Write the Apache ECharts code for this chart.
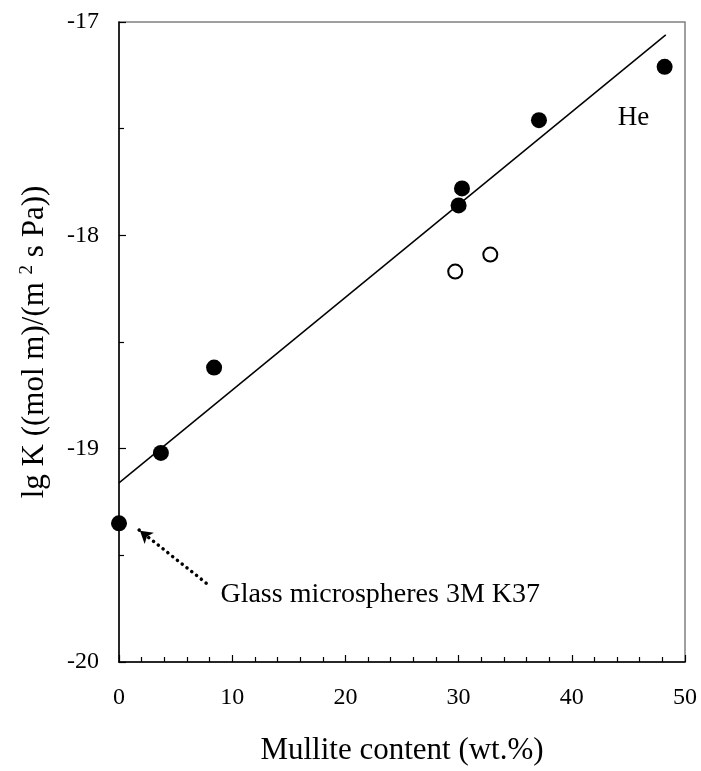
<!DOCTYPE html>
<html>
<head>
<meta charset="utf-8">
<script src="https://cdn.jsdelivr.net/npm/echarts@6/dist/echarts.min.js"></script>
<style>
  html, body { margin: 0; padding: 0; background: #fff; }
  #main { width: 701px; height: 771px; }
</style>
</head>
<body>
<div id="main"></div>
<script>
// measured points (filled = fitted samples, open = excluded)
var filledX = [0, 3.7, 8.4, 30.0, 30.3, 37.1, 48.2];
var filledY = [-19.35, -19.02, -18.62, -17.86, -17.78, -17.46, -17.21];
var openX = [29.7, 32.8];
var openY = [-18.17, -18.09];
// regression line end points
var fitX = [0, 48.3];
var fitY = [-19.16, -17.06];
// dotted arrow pointing at the glass microspheres point
var arrowFrom = [7.7, -19.63];
var arrowTo = [1.75, -19.38];
var arrowHead = [1.85, -19.385];
// text notes
var notes = [
  { x: 44.05, y: -17.45, text: 'He', size: 27 },
  { x: 8.96, y: -19.685, text: 'Glass microspheres 3M K37', size: 28 }
];

var serif = 'Liberation Serif';

function pairs(xs, ys) {
  var out = [];
  for (var i = 0; i < xs.length; i++) out.push([xs[i], ys[i]]);
  return out;
}

var dom = document.getElementById('main');
var myChart = echarts.init(dom);
var option = {
  animation: false,
  grid: {
    left: 119, right: 16, top: 22, bottom: 106,
    show: true, borderColor: '#808080', borderWidth: 1.5
  },
  xAxis: {
    type: 'value', min: 0, max: 50, interval: 10,
    name: 'Mullite content (wt.%)',
    nameLocation: 'middle', nameGap: 73,
    nameTextStyle: { fontFamily: serif, fontSize: 31, color: '#000' },
    axisLine: { lineStyle: { color: '#000', width: 1.5 } },
    axisTick: { inside: true, length: 7, lineStyle: { color: '#000', width: 1.2 } },
    minorTick: { show: true, splitNumber: 5, length: 5, lineStyle: { color: '#000', width: 1.2 } },
    axisLabel: { margin: 24, fontFamily: serif, fontSize: 24, color: '#000' },
    splitLine: { show: false }
  },
  yAxis: {
    type: 'value', min: -20, max: -17, interval: 1,
    name: 'lg K ((mol m)/(m {sup|2} s Pa))',
    nameLocation: 'middle', nameGap: 68,
    nameTextStyle: {
      fontFamily: serif, fontSize: 31, color: '#000',
      rich: {
        sup: { fontFamily: serif, fontSize: 19, color: '#000', verticalAlign: 'top', padding: [0, 0, 14, 0] }
      }
    },
    axisLine: { lineStyle: { color: '#000', width: 1.5 } },
    axisTick: { inside: true, length: 7, lineStyle: { color: '#000', width: 1.2 } },
    minorTick: { show: true, splitNumber: 2, length: 5, lineStyle: { color: '#000', width: 1.2 } },
    axisLabel: { margin: 20, fontFamily: serif, fontSize: 24, color: '#000' },
    splitLine: { show: false }
  },
  series: [
    {
      type: 'line',
      data: pairs(fitX, fitY),
      showSymbol: false,
      lineStyle: { color: '#000', width: 1.5 },
      silent: true,
      markLine: {
        silent: true,
        symbol: ['none', 'none'],
        label: { show: false },
        lineStyle: { color: '#000', width: 3.5, type: [0.1, 6], cap: 'round' },
        data: [[{ coord: arrowFrom }, { coord: arrowTo }]]
      }
    },
    {
      // arrow head, turned to follow the dotted shaft
      type: 'scatter',
      data: [arrowHead],
      symbol: 'arrow',
      symbolSize: [11, 12],
      symbolRotate: 51,
      silent: true,
      itemStyle: { color: '#000', opacity: 1 }
    },
    {
      type: 'scatter',
      data: pairs(filledX, filledY),
      symbol: 'circle',
      symbolSize: 16,
      itemStyle: { color: '#000', opacity: 1 }
    },
    {
      type: 'scatter',
      data: pairs(openX, openY),
      symbol: 'circle',
      symbolSize: 14,
      itemStyle: { color: '#fff', borderColor: '#000', borderWidth: 2, opacity: 1 }
    },
    {
      type: 'scatter',
      data: notes.map(function (n) {
        return {
          value: [n.x, n.y],
          label: { formatter: n.text, fontSize: n.size }
        };
      }),
      symbolSize: 0,
      silent: true,
      itemStyle: { opacity: 1 },
      label: {
        show: true, position: 'right', distance: 0,
        fontFamily: serif, color: '#000'
      }
    }
  ]
};
myChart.setOption(option);
</script>
</body>
</html>
